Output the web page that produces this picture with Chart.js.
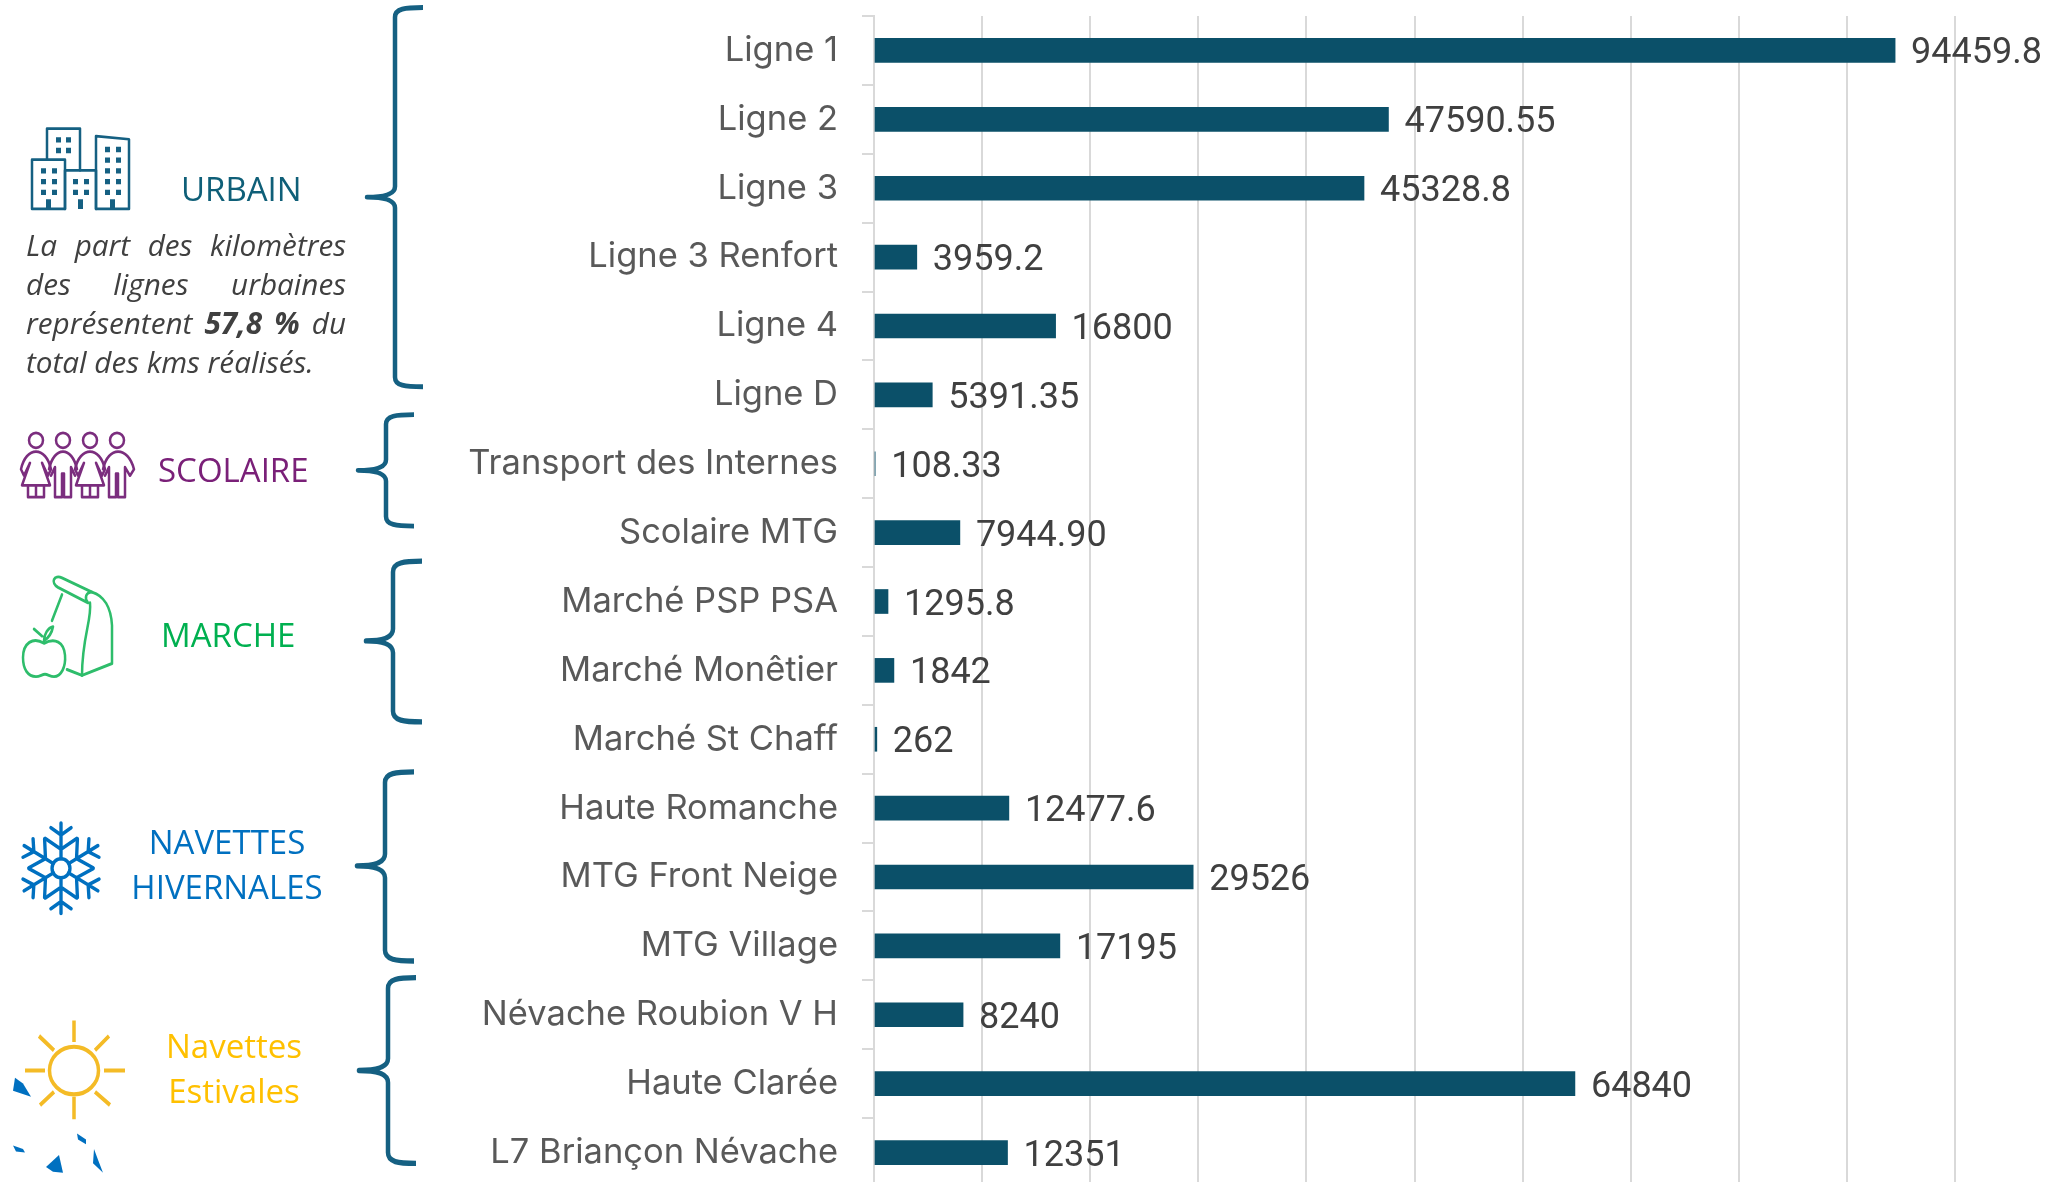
<!DOCTYPE html>
<html lang="fr">
<head>
<meta charset="utf-8">
<title>Kilomètres par ligne</title>
<script src="https://cdn.jsdelivr.net/npm/chart.js@4"></script>
<style>
    html, body { margin: 0; padding: 0; width: 2059px; height: 1182px; overflow: hidden; background: #fff; }
    #chartBox { position: absolute; left: 0; top: 0; width: 2059px; height: 1200px; }
    #deco { position: absolute; left: 0; top: 0; }
    .tag { position: absolute; font-family: "Open Sans", sans-serif; font-size: 33px; line-height: 45px; text-align: center; white-space: nowrap; }
    #note { position: absolute; left: 26px; top: 224.5px; width: 320px; font-family: "Open Sans", sans-serif; font-style: italic; font-size: 29.7px; line-height: 39.2px; color: #404040; }
    #note div { text-align: justify; text-align-last: justify; white-space: nowrap; }
    #note div:last-child { text-align-last: left; }
</style>
</head>
<body>
<div id="chartBox"><canvas id="kmChart"></canvas></div>

<svg id="deco" width="2059" height="1182" fill="none" stroke-linecap="round" stroke-linejoin="round">
    <!-- Braces -->
    <g stroke="#156082" stroke-width="4.5" stroke-linecap="butt">
        <g transform="scale(1 1.0714)">
            <path d="M423 7 C405 7 395 8 395 16 V174 C395 181 385 184 367 184 C385 184 395 187 395 194 V352 C395 360 405 361 423 361"/>
            <path d="M414 387 C396 387 386 388 386 396 V429 C386 436 376 439 358 439 C376 439 386 442 386 449 V482 C386 490 396 491 414 491"/>
        </g>
        <g transform="translate(0 560) scale(1 1.19) translate(0 -560)">
            <path d="M422 561 C404 561 393 562 393 570 V618 C393 625 384 628 366 628 C384 628 393 631 393 638 V687 C393 695 404 696 422 696"/>
            <path d="M414 738 C396 738 385 739 385 747 V807 C385 814 375 817 357 817 C375 817 385 820 385 827 V888 C385 896 396 897 414 897"/>
            <path d="M416 911 C398 911 388 912 388 920 V979 C388 986 378 989 359 989 C378 989 388 992 388 999 V1058 C388 1066 398 1067 416 1067"/>
        </g>
    </g>

    <g transform="scale(1 1.0714)">
        <!-- Urbain -->
        <g stroke="#156082" stroke-width="2.5">
            <path d="M47 149 V120 H80 V159"/>
            <path d="M32 195 V149 H65 V195 Z"/>
            <path d="M65 195 V159 H96 V195"/>
            <path d="M96 195 V127 L129 130 V195 Z"/>
        </g>
        <g fill="#156082" stroke="none">
            <path d="M56 128h5v5h-5zM66 128h5v5h-5zM56 138h5v5h-5zM66 138h5v5h-5z"/>
            <path d="M41 157h5v5h-5zM52 157h5v5h-5zM41 167h5v5h-5zM52 167h5v5h-5zM41 177h5v5h-5zM52 177h5v5h-5z"/>
            <path d="M73 167h5v5h-5zM84 167h5v5h-5zM73 177h5v5h-5zM84 177h5v5h-5z"/>
            <path d="M105 137h5v5h-5zM116 137h5v5h-5zM105 147h5v5h-5zM116 147h5v5h-5zM105 157h5v5h-5zM116 157h5v5h-5zM105 167h5v5h-5zM116 167h5v5h-5zM105 177h5v5h-5zM116 177h5v5h-5z"/>
            <path d="M46 186h5v9h-5zM78 186h5v9h-5zM110 186h5v9h-5z"/>
        </g>

        <!-- Scolaire -->
        <g stroke="#7b2d7e" stroke-width="2.5">
            <circle cx="36" cy="411" r="7"/><circle cx="63" cy="411" r="7"/>
            <circle cx="90" cy="411" r="7"/><circle cx="117" cy="411" r="7"/>
            <path d="M28 464 H44 M28 453 V464 M44 453 V464 M36 453 V464 M22 453 H50 L42 432 L48 444 L51 438 C46 416 26 416 21 438 L24 444 L30 432 L22 453"/>
            <path d="M82 464 H98 M82 453 V464 M98 453 V464 M90 453 V464 M76 453 H104 L96 432 L102 444 L105 438 C100 416 80 416 75 438 L78 444 L84 432 L76 453"/>
            <path d="M55 464 V436 L51 444 M71 464 V436 L75 444 M55 464 H62 V442 H64 V464 H71 M49 438 C54 416 72 416 77 438"/>
            <path d="M109 464 V436 L105 444 M125 464 V436 L130 444 L134 438 C128 416 108 416 103 438 M109 464 H116 V442 H118 V464 H125"/>
        </g>
    </g>

    <g transform="translate(0 560) scale(1 1.19) translate(0 -560)">
        <!-- Marche -->
        <g stroke="#2ebd6b" stroke-width="2.5">
            <path d="M62 575 L92 587 C86 587 84 592 88 596 L58 583 C50 579 54 572 62 575 Z"/>
            <path d="M92 587 C104 590 111 600 112 615 V647 L82 657 L67 652"/>
            <path d="M90 596 C92 610 82 625 82 657"/>
            <path d="M62 589 L52 611"/>
            <path d="M44 630 C33 624 23 630 23 642 C23 652 28 658 36 658 C40 658 42 656 45 656 C48 656 50 658 54 658 C61 658 66 650 65 640 C64 629 55 625 44 630 Z"/>
            <path d="M44 628 C44 622 48 617 53 616 C52 621 49 625 44 628 Z M42 624 L34 618"/>
        </g>

        <!-- Navettes hivernales -->
        <g stroke="#0070c0" stroke-width="3" transform="translate(61 819) scale(1.12 1)">
            <circle r="8"/>
            <g id="arm"><path d="M0 -8 V-38 M0 -16 L-14 -25 M0 -16 L14 -25 M0 -28 L-9 -34 M0 -28 L9 -34"/></g>
            <use href="#arm" transform="rotate(60)"/>
            <use href="#arm" transform="rotate(120)"/>
            <use href="#arm" transform="rotate(180)"/>
            <use href="#arm" transform="rotate(240)"/>
            <use href="#arm" transform="rotate(300)"/>
        </g>

        <!-- Navettes estivales -->
        <g stroke="#f4bb26" stroke-width="3.5" stroke-linecap="butt">
            <ellipse cx="74" cy="989" rx="24.5" ry="20"/>
            <path d="M74 947 V965 M74 1011 V1030 M25 989 H45 M104 989 H125 M39 960 L54 972 M109 960 L95 972 M40 1018 L54 1007 M110 1018 L95 1007"/>
        </g>
        <g fill="#0070c0" stroke="none">
            <path d="M15 995 L23 1000 L31 1011 L13 1006 Z"/>
            <path d="M13 1052 L23 1055 L25 1058 L16 1057 Z"/>
            <path d="M77 1042 L86 1047 L86 1051 L78 1047 Z"/>
            <path d="M46 1070 L59 1060 L63 1075 L53 1074 Z"/>
            <path d="M94 1055 L98 1064 L103 1075 L102 1074 L93 1067 Z"/>
        </g>
    </g>
</svg>

<div class="tag" style="left:181px;top:166px;color:#0f5f78">URBAIN</div>
<div class="tag" style="left:158px;top:447px;color:#7a2078">SCOLAIRE</div>
<div class="tag" style="left:161px;top:612px;color:#00b050">MARCHE</div>
<div class="tag" style="left:127px;top:819px;width:200px;color:#0070c0">NAVETTES<br>HIVERNALES</div>
<div class="tag" style="left:134px;top:1023px;width:200px;color:#ffc000">Navettes<br>Estivales</div>
<div id="note">
    <div>La part des kilomètres</div>
    <div>des lignes urbaines</div>
    <div>représentent <b>57,8 %</b> du</div>
    <div>total des kms réalisés.</div>
</div>

<script>
// Chart data
const lineNames = [
    'Ligne 1', 'Ligne 2', 'Ligne 3', 'Ligne 3 Renfort', 'Ligne 4', 'Ligne D',
    'Transport des Internes', 'Scolaire MTG',
    'Marché PSP PSA', 'Marché Monêtier', 'Marché St Chaff',
    'Haute Romanche', 'MTG Front Neige', 'MTG Village',
    'Névache Roubion V H', 'Haute Clarée', 'L7 Briançon Névache'
];
const kmValues = [
    94459.8, 47590.55, 45328.8, 3959.2, 16800, 5391.35,
    108.33, 7944.90,
    1295.8, 1842, 262,
    12477.6, 29526, 17195,
    8240, 64840, 12351
];
const kmLabels = [
    '94459.8', '47590.55', '45328.8', '3959.2', '16800', '5391.35',
    '108.33', '7944.90',
    '1295.8', '1842', '262',
    '12477.6', '29526', '17195',
    '8240', '64840', '12351'
];
const axisMax = 100000;
const axisStep = 10000;

// Writes the value next to each bar
const valueLabelPlugin = {
    id: 'valueLabels',
    afterDatasetsDraw(chart) {
        const ctx = chart.ctx;
        ctx.save();
        ctx.font = '36px Roboto, sans-serif';
        ctx.fillStyle = '#404040';
        ctx.textAlign = 'left';
        ctx.textBaseline = 'middle';
        chart.getDatasetMeta(0).data.forEach((bar, i) => {
            ctx.fillText(kmLabels[i], bar.x + 16, bar.y + 4);
        });
        ctx.restore();
    }
};

// Initialize Chart
const kmChart = new Chart(document.getElementById('kmChart'), {
    type: 'bar',
    data: {
        labels: lineNames,
        datasets: [{
            data: kmValues,
            backgroundColor: '#0b5069',
            barThickness: 24
        }]
    },
    options: {
        indexAxis: 'y',
        responsive: true,
        maintainAspectRatio: false,
        animation: false,
        layout: { padding: { top: 16, right: 104, bottom: 13 } },
        plugins: { legend: { display: false }, tooltip: { enabled: false } },
        scales: {
            x: {
                min: 0,
                max: axisMax,
                ticks: { display: false, stepSize: axisStep },
                border: { display: false },
                grid: { color: '#d9d9d9', lineWidth: 2, drawTicks: false }
            },
            y: {
                afterFit: scale => {
                    // fixed left gutter, no extra room for the first and last label
                    scale.width = 874;
                    scale.paddingTop = 0;
                    scale.paddingBottom = 0;
                },
                ticks: {
                    color: '#595959',
                    padding: 24,
                    autoSkip: false,
                    font: { family: 'Inter, sans-serif', size: 34.5 }
                },
                border: { color: '#d9d9d9', width: 2 },
                grid: { color: '#d9d9d9', lineWidth: 2, tickLength: 12, drawOnChartArea: false }
            }
        }
    },
    plugins: [valueLabelPlugin]
});
</script>
</body>
</html>
